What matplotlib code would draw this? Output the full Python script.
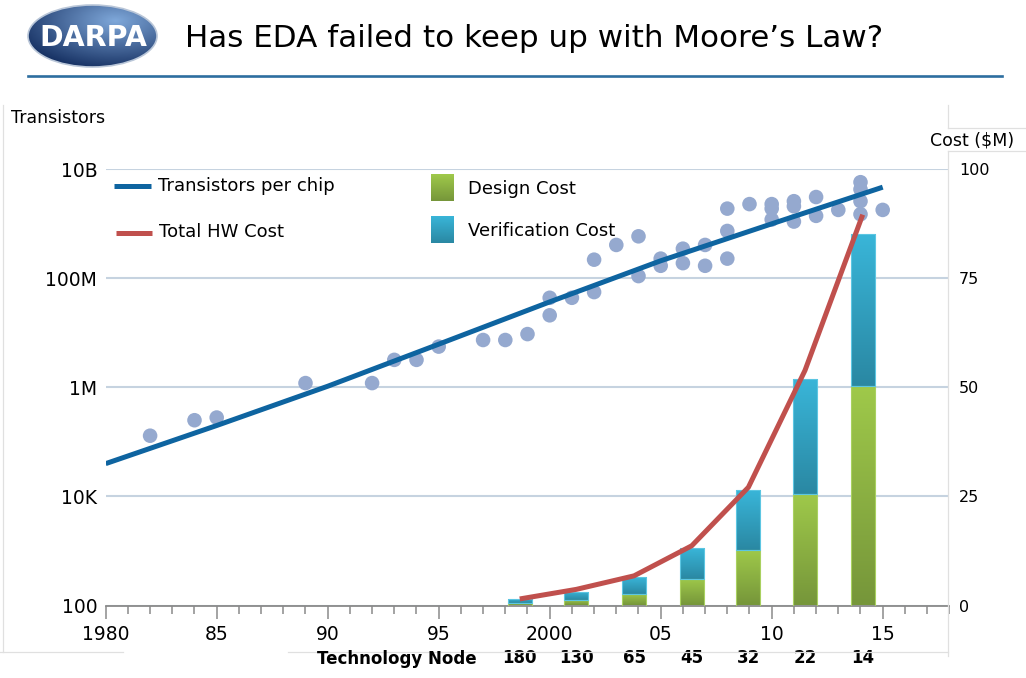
import numpy as np
import matplotlib
matplotlib.use("Agg")
import matplotlib.pyplot as plt
from matplotlib.patches import Rectangle, Ellipse
from matplotlib.lines import Line2D
from matplotlib.colors import to_rgb
from matplotlib.ticker import FixedLocator, MultipleLocator, NullLocator
from matplotlib import font_manager

plt.rcParams['font.family'] = ['DejaVu Sans']

# transistor counts per chip (scatter)
point_years = [1982, 1984, 1985, 1989, 1992, 1993, 1994, 1995, 1997, 1998, 1999,
               2000, 2000, 2001, 2002, 2002, 2003, 2004, 2004, 2005, 2005, 2006, 2006,
               2007, 2007, 2008, 2008, 2008, 2009, 2010, 2010, 2010, 2011, 2011, 2011,
               2012, 2012, 2013, 2014, 2014, 2014, 2014, 2015]
point_counts = [1.3e5, 2.5e5, 2.8e5, 1.2e6, 1.2e6, 3.2e6, 3.2e6, 5.6e6, 7.4e6, 7.4e6, 9.5e6,
                2.1e7, 4.4e7, 4.4e7, 5.6e7, 2.2e8, 4.1e8, 5.9e8, 1.1e8, 2.3e8, 1.7e8, 3.5e8, 1.9e8,
                4.1e8, 1.7e8, 1.9e9, 7.4e8, 2.3e8, 2.3e9, 2.3e9, 1.9e9, 1.2e9, 2.6e9, 2.1e9, 1.1e9,
                3.1e9, 1.4e9, 1.8e9, 5.8e9, 4.3e9, 2.6e9, 1.5e9, 1.8e9]

# trend line "Transistors per chip"
trend_years = [1980, 1985, 1990, 1995, 2000, 2005, 2010, 2015]
trend_counts = [4.0e4, 2.0e5, 1.05e6, 6.2e6, 3.7e7, 2.1e8, 1.0e9, 4.7e9]

# cost per technology node ($M)
nodes = ['180', '130', '65', '45', '32', '22', '14']
node_years = [1998.65, 2001.2, 2003.8, 2006.4, 2008.95, 2011.5, 2014.1]
design_cost = [0.5, 1.2, 2.7, 6.1, 12.7, 25.6, 50.3]
verification_cost = [1.1, 2.0, 3.8, 7.0, 13.7, 26.3, 34.8]
total_hw_cost = [1.5, 3.7, 6.8, 13.7, 27.1, 53.9, 89.6]

x_ticks = [1980, 1985, 1990, 1995, 2000, 2005, 2010, 2015]
x_labels = ['1980', '85', '90', '95', '2000', '05', '10', '15']
y_ticks = [1e2, 1e4, 1e6, 1e8, 1e10]
y_labels = ['100', '10K', '1M', '100M', '10B']
cost_ticks = [0, 25, 50, 75, 100]

BLUE = '#0E64A0'
RED = '#C0504D'
DOT = '#95A9CF'
GRID = '#C6D3E0'
GREEN_TOP, GREEN_BOT = '#9FC94A', '#76963A'
CYAN_TOP, CYAN_BOT = '#39B5D8', '#2A88A3'
FRAME = '#E0E0E0'


def gradient(c_top, c_bot, n=64):
    t = np.linspace(0, 1, n)[:, None]
    rgb = (1 - t) * np.array(to_rgb(c_bot)) + t * np.array(to_rgb(c_top))
    return rgb[:, None, :]


W, H = 1026, 678
fig = plt.figure(figsize=(W / 100, H / 100), dpi=100)
fig.patch.set_facecolor('white')

ax = fig.add_axes([105.7 / W, 1 - 605.5 / H, (949.3 - 105.7) / W, (605.5 - 169.3) / H])
ax.set_yscale('log')

ax.scatter(point_years, point_counts, s=110, color=DOT, edgecolors='none', zorder=2)
ax.plot(trend_years, trend_counts, color=BLUE, lw=3.6, solid_capstyle='butt', zorder=3)

ax.set_xlim(1980, 2018)
ax.set_ylim(1e2, 1e10)
ax.yaxis.set_major_locator(FixedLocator(y_ticks))
ax.yaxis.set_minor_locator(NullLocator())
ax.set_yticklabels(y_labels)
ax.set_xticks(x_ticks)
ax.set_xticklabels(x_labels)
ax.xaxis.set_minor_locator(MultipleLocator(1))
ax.tick_params(axis='x', which='major', length=9, width=1.1, color='#8A8A8A',
               direction='out', labelsize=13.5, pad=5)
ax.tick_params(axis='x', which='minor', length=6, width=1.1, color='#8A8A8A', direction='out')
ax.tick_params(axis='y', length=0, labelsize=13.5, pad=6)
ax.grid(axis='y', which='major', color=GRID, lw=1.5)
ax.set_axisbelow(True)
for side in ['top', 'left', 'right']:
    ax.spines[side].set_visible(False)
ax.spines['bottom'].set_color('#8A8A8A')
ax.spines['bottom'].set_linewidth(1.3)

# cost axis on the right
ax2 = ax.twinx()
bar_w = 1.09
bars_d = ax2.bar(node_years, design_cost, width=bar_w, facecolor='none',
                 edgecolor='#A9D160', lw=0.8, zorder=3)
bars_v = ax2.bar(node_years, verification_cost, width=bar_w, bottom=design_cost,
                 facecolor='none', edgecolor='#5CC6E2', lw=0.8, zorder=3)
for bars, ctop, cbot in [(bars_d, GREEN_TOP, GREEN_BOT), (bars_v, CYAN_TOP, CYAN_BOT)]:
    for p in bars:
        x0, y0 = p.get_x(), p.get_y()
        img = ax2.imshow(gradient(ctop, cbot), extent=(x0, x0 + p.get_width(), y0, y0 + p.get_height()),
                         origin='lower', aspect='auto', interpolation='bilinear', zorder=2)
        img.set_clip_path(p)
ax2.plot(node_years, total_hw_cost, color=RED, lw=3.6, solid_capstyle='butt', zorder=4)
ax2.set_xlim(1980, 2018)
ax2.set_ylim(0, 100)
ax2.set_yticks(cost_ticks)
ax2.tick_params(axis='y', length=0, labelsize=11.5, pad=7)
for side in ax2.spines:
    ax2.spines[side].set_visible(False)

# technology node row under the bars
for yr, nd in zip(node_years, nodes):
    ax.text(yr, -0.12, nd, transform=ax.get_xaxis_transform(), ha='center', va='center',
            fontsize=12, fontweight='bold')

# overlay in pixel coordinates for slide decorations
ov = fig.add_axes([0, 0, 1, 1], zorder=10)
ov.patch.set_alpha(0)
ov.axis('off')

# logo
gx, gy = np.meshgrid(np.linspace(0, 1, 160), np.linspace(0, 1, 80))
r = np.clip(np.hypot((gx - 0.68) / 0.9, (gy - 0.25) / 0.9), 0, 1)[..., None]
logo = (1 - r) * np.array(to_rgb('#7FA8DA')) + r * np.array(to_rgb('#0A2355'))
ell = Ellipse((92.5, 36), 129, 62, facecolor='none', edgecolor='#B9C6D8', lw=1.2, zorder=3)
ov.add_patch(ell)
im = ov.imshow(logo, extent=(28, 157, 67, 5), origin='upper', aspect='auto',
               interpolation='bilinear', zorder=2)
im.set_clip_path(ell)
names = {f.name for f in font_manager.fontManager.ttflist}
if 'Liberation Sans Narrow' in names:
    ov.text(93, 38, 'DARPA', color='white', fontsize=26, fontweight='bold',
            family='Liberation Sans Narrow', ha='center', va='center', zorder=4)
else:
    ov.text(93, 38, 'DARPA', color='white', fontsize=20.5, fontweight='bold',
            ha='center', va='center', zorder=4)

ov.text(185, 47, 'Has EDA failed to keep up with Moore\u2019s Law?', fontsize=22.3, va='baseline')
ov.add_line(Line2D([28, 1002], [76, 76], color='#2D6E9F', lw=1.9))

ov.text(11, 118, 'Transistors', fontsize=12.5, va='center')
ov.text(972, 141, 'Cost ($M)', fontsize=12.5, ha='center', va='center')
ov.text(477, 659, 'Technology Node', fontsize=12, fontweight='bold', ha='right', va='center')

# chart frame lines
for xs, ys in [([3, 3], [105, 652]), ([0, 123], [652, 652]), ([288, 948], [652, 652]),
               ([948, 948], [105, 128]), ([948, 1026], [128, 128]),
               ([948, 1026], [151, 151]), ([948, 948], [151, 656])]:
    ov.add_line(Line2D(xs, ys, color=FRAME, lw=0.9, zorder=0))

# legend
ov.add_line(Line2D([114, 151], [186, 186], color=BLUE, lw=3.6, solid_capstyle='butt'))
ov.text(158, 186, 'Transistors per chip', fontsize=13, va='center')
ov.add_line(Line2D([116, 152], [233, 233], color=RED, lw=3.6, solid_capstyle='butt'))
ov.text(159, 232, 'Total HW Cost', fontsize=13, va='center')
for (ya, yb), ctop, cbot, lab in [((174, 201), GREEN_TOP, GREEN_BOT, 'Design Cost'),
                                  ((216, 243), CYAN_TOP, CYAN_BOT, 'Verification Cost')]:
    ov.imshow(gradient(ctop, cbot), extent=(431, 454, yb, ya), origin='lower', aspect='auto',
              interpolation='bilinear')
    ov.text(468, (ya + yb) / 2 + 2, lab, fontsize=13, va='center')

ov.set_xlim(0, W)
ov.set_ylim(H, 0)

fig.savefig('out.png', dpi=100)
